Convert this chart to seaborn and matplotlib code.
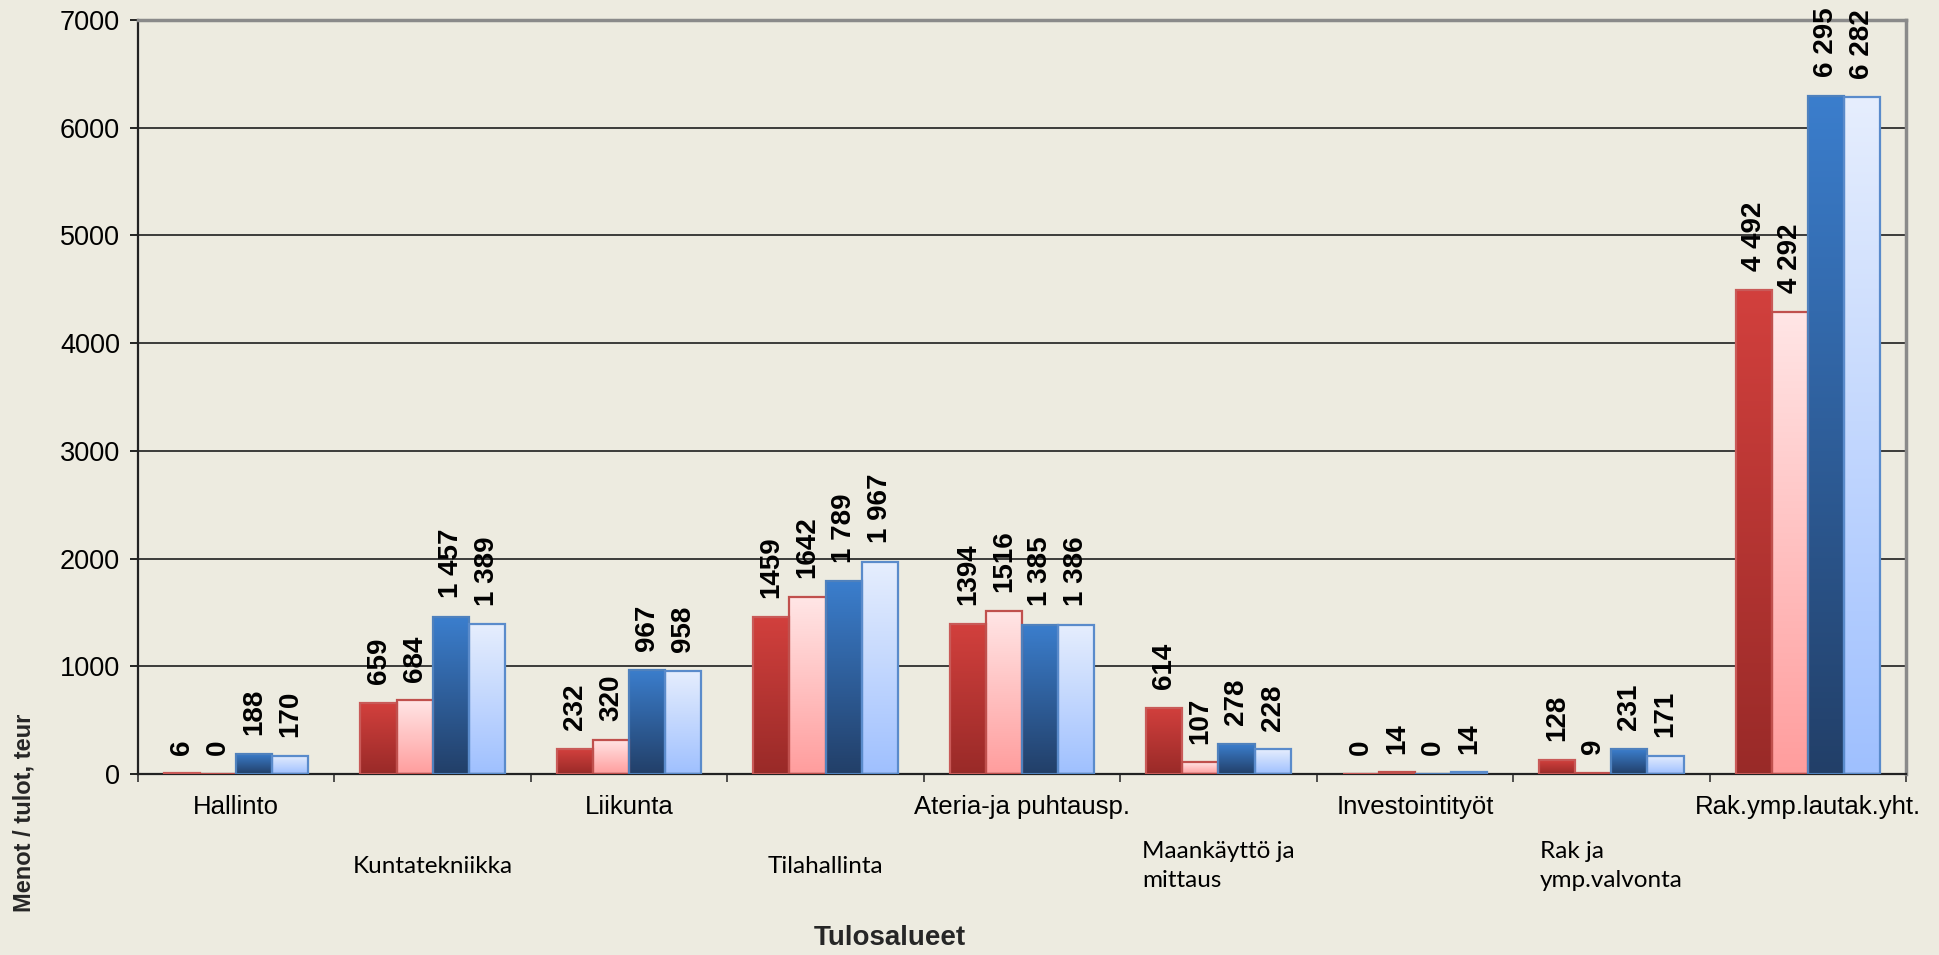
import numpy as np
import pandas as pd
import matplotlib.pyplot as plt
import seaborn as sns
from matplotlib.colors import LinearSegmentedColormap

alueet = ["Hallinto", "Kuntatekniikka", "Liikunta", "Tilahallinta",
          "Ateria-ja puhtausp.", "Maankäyttö ja\nmittaus", "Investointityöt",
          "Rak ja\nymp.valvonta", "Rak.ymp.lautak.yht."]
sarjat = ["Sarja 1", "Sarja 2", "Sarja 3", "Sarja 4"]

sarja1 = [6, 659, 232, 1459, 1394, 614, 0, 128, 4492]
sarja2 = [0, 684, 320, 1642, 1516, 107, 14, 9, 4292]
sarja3 = [188, 1457, 967, 1789, 1385, 278, 0, 231, 6295]
sarja4 = [170, 1389, 958, 1967, 1386, 228, 14, 171, 6282]

tekstit1 = ["6", "659", "232", "1459", "1394", "614", "0", "128", "4 492"]
tekstit2 = ["0", "684", "320", "1642", "1516", "107", "14", "9", "4 292"]
tekstit3 = ["188", "1 457", "967", "1 789", "1 385", "278", "0", "231", "6 295"]
tekstit4 = ["170", "1 389", "958", "1 967", "1 386", "228", "14", "171", "6 282"]

y_ticks = [0, 1000, 2000, 3000, 4000, 5000, 6000, 7000]

arvot = [sarja1, sarja2, sarja3, sarja4]
tekstit = [tekstit1, tekstit2, tekstit3, tekstit4]

df = pd.DataFrame({
    "alue": alueet * 4,
    "sarja": [s for s in sarjat for _ in alueet],
    "arvo": sarja1 + sarja2 + sarja3 + sarja4,
})

# gradient colours (bottom, top) and edge colour for each series
liukuvarit = [("#992a28", "#d2403d"), ("#ff9d9d", "#ffe6e6"),
              ("#223f68", "#3b7ecd"), ("#9fc0ff", "#e6eefd")]
reunat = ["#c95a58", "#c0504d", "#4f81bd", "#5a8bcb"]
tausta = "#edebe0"

sns.set_theme(style="white")
plt.rcParams['font.family'] = ['Liberation Sans', 'DejaVu Sans']

W, H = 1939, 955
fig = plt.figure(figsize=(W / 100, H / 100), dpi=100)
fig.patch.set_facecolor(tausta)
ax = fig.add_axes([138 / W, 1 - 774 / H, (1906 - 138) / W, (774 - 20) / H])
ax.set_facecolor(tausta)

sns.barplot(data=df, x="alue", y="arvo", hue="sarja", order=alueet, hue_order=sarjat,
            palette=[c[1] for c in liukuvarit], width=0.735, saturation=1,
            legend=False, ax=ax)

for i, cont in enumerate(ax.containers):
    cmap = LinearSegmentedColormap.from_list(f"g{i}", list(liukuvarit[i]))
    for j, bar in enumerate(cont):
        x0, w, h = bar.get_x(), bar.get_width(), bar.get_height()
        bar.set_facecolor("none")
        bar.set_edgecolor(reunat[i])
        bar.set_linewidth(1.6)
        bar.set_zorder(3)
        if h > 0:
            grad = np.linspace(0, 1, 256).reshape(-1, 1)
            im = ax.imshow(grad, cmap=cmap, extent=[x0, x0 + w, 0, h], origin="lower",
                           aspect="auto", zorder=2, interpolation="bilinear")
            im.set_clip_path(bar)
        ax.annotate(tekstit[i][j], xy=(x0 + w / 2, h), xytext=(0, 13.5),
                    textcoords="offset points", rotation=90, ha="center", va="bottom",
                    fontsize=20, fontweight="bold", color="black")

ax.set_xlim(-0.5, len(alueet) - 0.5)
ax.set_ylim(0, 7000)
ax.set_yticks(y_ticks)
ax.set_xticks(np.arange(-0.5, len(alueet), 1.0))
ax.set_xticklabels([])
ax.tick_params(axis="y", labelsize=19.5, length=6, width=1.2, pad=7, left=True, colors="black")
ax.tick_params(axis="x", length=6, width=1.2, bottom=True, colors="#333333")
ax.set_xlabel("")
ax.set_ylabel("")

ax.yaxis.grid(True, color="#1e1e1e", linewidth=1.2, zorder=0.5)
ax.set_axisbelow(True)
for side in ["left", "bottom"]:
    ax.spines[side].set_color("#222222")
    ax.spines[side].set_linewidth(1.6)
for side in ["top", "right"]:
    ax.spines[side].set_color("#8a8a8a")
    ax.spines[side].set_linewidth(2.5)

# category labels in two staggered rows
trans = ax.get_xaxis_transform()
for k, nimi in enumerate(alueet):
    if k % 2 == 0:
        ax.text(k, -33 / 754, nimi, transform=trans, ha="center", va="center",
                fontsize=18.5, color="black")
    else:
        ax.text(k, -92 / 754, nimi, transform=trans, ha="center", va="center",
                fontsize=17.5, family=["Lato", "DejaVu Sans"], color="black",
                multialignment="left", linespacing=1.45)

fig.text(890 / W, 1 - 938 / H, "Tulosalueet", ha="center", va="center",
         fontsize=20, fontweight="bold")
fig.text(24 / W, 1 - 813 / H, "Menot / tulot, teur", ha="center", va="center",
         rotation=90, fontsize=17, fontweight="bold")

fig.savefig("out.png", dpi=100, facecolor=tausta)
